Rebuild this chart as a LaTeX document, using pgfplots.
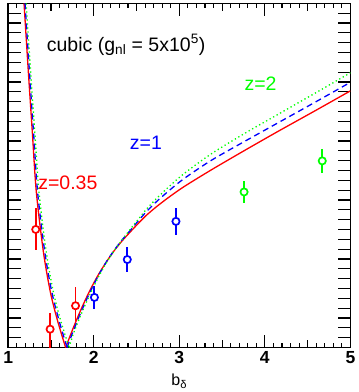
\documentclass[border=0pt]{standalone}
\usepackage{pgfplots}
\pgfplotsset{compat=1.18}
\usepackage{fontspec}
\setmainfont{Liberation Sans}

\begin{document}
\begin{tikzpicture}
\begin{axis}[
  scale only axis, width=341bp, height=343bp,
  xmin=1, xmax=5, ymin=0, ymax=35,
  xtick={1,...,5}, minor x tick num=9,
  extra x ticks={1.5,2.5,3.5,4.5}, extra x tick labels={},
  extra x tick style={major tick length=8bp},
  ytick={0,...,35}, yticklabels={},
  major tick length=12.5bp, minor tick length=5bp,
  tick style={black, line width=1.1bp},
  axis line style={line width=1.6bp},
  /pgf/number format/assume math mode=true,
  xticklabel style={font=\fontsize{17.5}{20}\selectfont\bfseries},
  xlabel={b\textsubscript{δ}},
  xlabel style={font=\fontsize{16}{19}\selectfont, yshift=-4bp},
]
% z=0.35 (red, solid)
\addplot[red, line width=1.3bp, smooth] coordinates {
  (1.185,35) (1.235,28.1) (1.282,21.9) (1.329,15.8) (1.412,9.7)
  (1.494,5.6) (1.576,2.76) (1.671,0)};
\addplot[red, line width=1.3bp, smooth] coordinates {
  (1.671,0) (1.765,2.09) (1.859,4.03) (1.953,5.77) (2.047,7.30)
  (2.141,8.62) (2.235,9.80) (2.329,10.82) (2.424,11.73) (2.518,12.60)
  (2.612,13.42) (2.729,14.29) (2.882,15.31) (3.059,16.38) (3.373,18.06)
  (3.765,20.05) (4.156,21.99) (4.588,24.08) (5,26.1)};
% z=1 (blue, dashed)
\addplot[blue, line width=1.3bp, dash pattern=on 6bp off 4bp, smooth] coordinates {
  (1.197,35) (1.248,28.1) (1.296,21.9) (1.344,15.8) (1.428,9.7)
  (1.511,5.6) (1.594,2.76) (1.688,0)};
\addplot[blue, line width=1.3bp, dash pattern=on 6bp off 4bp, smooth] coordinates {
  (1.688,0) (1.765,1.78) (1.859,3.77) (1.953,5.57) (2.047,7.20)
  (2.141,8.62) (2.235,9.85) (2.329,10.92) (2.424,11.88) (2.518,12.86)
  (2.612,13.78) (2.729,14.80) (2.882,15.97) (3.059,17.20) (3.373,19.03)
  (3.765,20.97) (4.156,22.86) (4.588,24.95) (5,26.97)};
% z=2 (green, dotted)
\addplot[green, line width=1.3bp, dash pattern=on 1.3bp off 2.7bp, smooth] coordinates {
  (1.21,35) (1.262,28.1) (1.311,21.9) (1.36,15.8) (1.445,9.7)
  (1.529,5.6) (1.613,2.76) (1.712,0)};
\addplot[green, line width=1.3bp, dash pattern=on 1.3bp off 2.7bp, smooth] coordinates {
  (1.712,0) (1.765,1.48) (1.859,3.52) (1.953,5.36) (2.047,7.04)
  (2.141,8.52) (2.235,9.80) (2.329,10.92) (2.424,11.99) (2.518,13.01)
  (2.612,14.03) (2.729,15.11) (2.882,16.38) (3.059,17.71) (3.373,19.69)
  (3.765,21.78) (4.156,23.72) (4.588,25.87) (5,27.94)};
% measurements
\addplot[red, only marks, mark=*, mark size=3.6bp,
  mark options={draw=red, fill=white, line width=1.7bp},
  error bars/.cd, y dir=both, y explicit, error mark=none,
  error bar style={line width=1.9bp}] coordinates {
  (1.322,12.01) += (0,2.13) -= (0,2.13)
  (1.49,1.87) += (0,1.6) -= (0,2.5)
  (1.787,4.25) += (0,1.9) -= (0,1.5)};
\addplot[blue, only marks, mark=*, mark size=3.6bp,
  mark options={draw=blue, fill=white, line width=1.7bp},
  error bars/.cd, y dir=both, y explicit, error mark=none,
  error bar style={line width=1.9bp}] coordinates {
  (2.008,5.1) +- (0,1.2)
  (2.392,8.95) +- (0,1.28)
  (2.961,12.83) +- (0,1.38)};
\addplot[green, only marks, mark=*, mark size=3.6bp,
  mark options={draw=green, fill=white, line width=1.7bp},
  error bars/.cd, y dir=both, y explicit, error mark=none,
  error bar style={line width=1.9bp}] coordinates {
  (3.757,15.82) +- (0,1.1)
  (4.671,18.98) +- (0,1.2)};
\node[anchor=west, inner sep=0pt, font=\fontsize{19.5}{22}\selectfont]
  at (axis cs:1.45,30.8) {cubic (g\textsubscript{nl} = 5x10\textsuperscript{5})};
\node[anchor=west, inner sep=0pt, red, font=\fontsize{19.5}{22}\selectfont]
  at (axis cs:1.35,16.8) {z=0.35};
\node[anchor=west, inner sep=0pt, blue, font=\fontsize{19.5}{22}\selectfont]
  at (axis cs:2.42,20.85) {z=1};
\node[anchor=west, inner sep=0pt, green, font=\fontsize{19.5}{22}\selectfont]
  at (axis cs:3.76,26.8) {z=2};
\end{axis}
\end{tikzpicture}
\end{document}
